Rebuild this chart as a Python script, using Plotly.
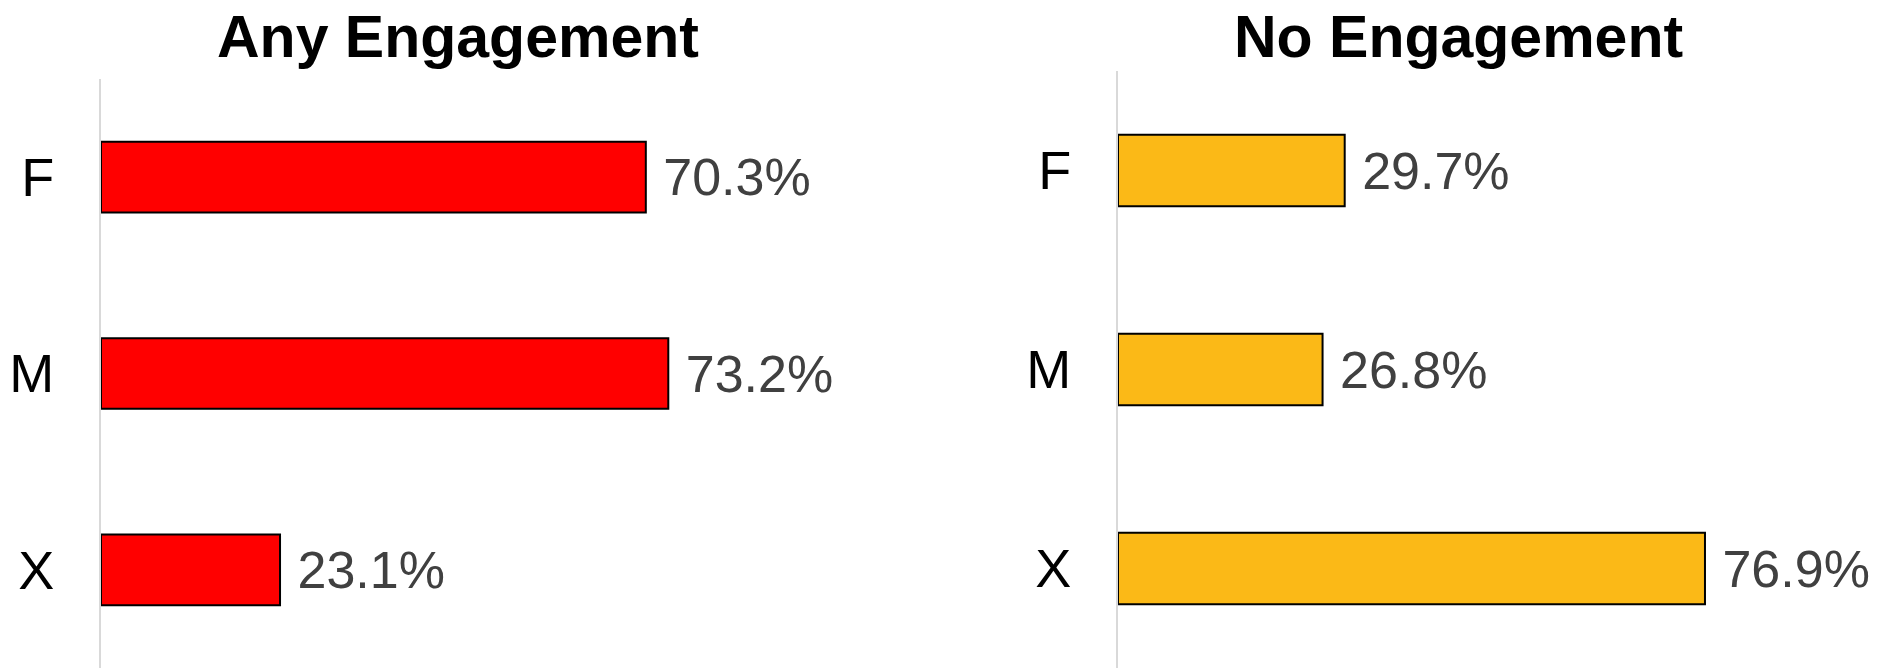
import plotly.graph_objects as go

groups = ["F", "M", "X"]
any_engagement = [70.3, 73.2, 23.1]
no_engagement = [29.7, 26.8, 76.9]
panel_titles = ["Any Engagement", "No Engagement"]

FONT = "Arial, Liberation Sans, Helvetica, sans-serif"
W, H = 1879, 668


def bar_trace(values, color, xaxis, yaxis):
    return go.Bar(
        x=values, y=groups, orientation="h",
        marker=dict(color=color, line=dict(color="#000", width=2)),
        text=["\u00a0" + f"{v:.1f}%" for v in values],
        textposition="outside", constraintext="none", cliponaxis=False,
        textfont=dict(family=FONT, size=52, color="#404040"),
        xaxis=xaxis, yaxis=yaxis, showlegend=False, hoverinfo="skip",
    )


fig = go.Figure()
fig.add_trace(bar_trace(any_engagement, "#FF0000", "x", "y"))
fig.add_trace(bar_trace(no_engagement, "#FBB917", "x2", "y2"))

xcommon = dict(range=[0, 90], showgrid=False, zeroline=False, showline=False,
               showticklabels=False, ticks="")
ycommon = dict(autorange="reversed", showgrid=False, zeroline=False,
               showline=True, linecolor="#d9d9d9", linewidth=2, ticks="",
               ticklabelstandoff=34,
               tickfont=dict(family=FONT, size=54, color="#000"))

fig.update_layout(
    width=W, height=H,
    margin=dict(l=0, r=0, t=0, b=0),
    paper_bgcolor="white", plot_bgcolor="white",
    bargap=0.64,
    xaxis=dict(domain=[101 / W, (101 + 7.75 * 90) / W], anchor="y", **xcommon),
    xaxis2=dict(domain=[1118 / W, (1118 + 7.633 * 90) / W], anchor="y2", **xcommon),
    yaxis=dict(domain=[0, (H - 79) / H], anchor="x", **ycommon),
    yaxis2=dict(domain=[0, (H - 71) / H], anchor="x2", **ycommon),
    annotations=[
        dict(text=f"<b>{panel_titles[0]}</b>", x=458 / W, y=1, xref="paper", yref="paper",
             xanchor="center", yanchor="top", yshift=-2, showarrow=False,
             font=dict(family=FONT, size=59, color="#000")),
        dict(text=f"<b>{panel_titles[1]}</b>", x=1458 / W, y=1, xref="paper", yref="paper",
             xanchor="center", yanchor="top", yshift=-2, showarrow=False,
             font=dict(family=FONT, size=59, color="#000")),
    ],
)

fig.write_html("out.html", config={"displayModeBar": False},
               post_script="document.body.style.margin='0';")
